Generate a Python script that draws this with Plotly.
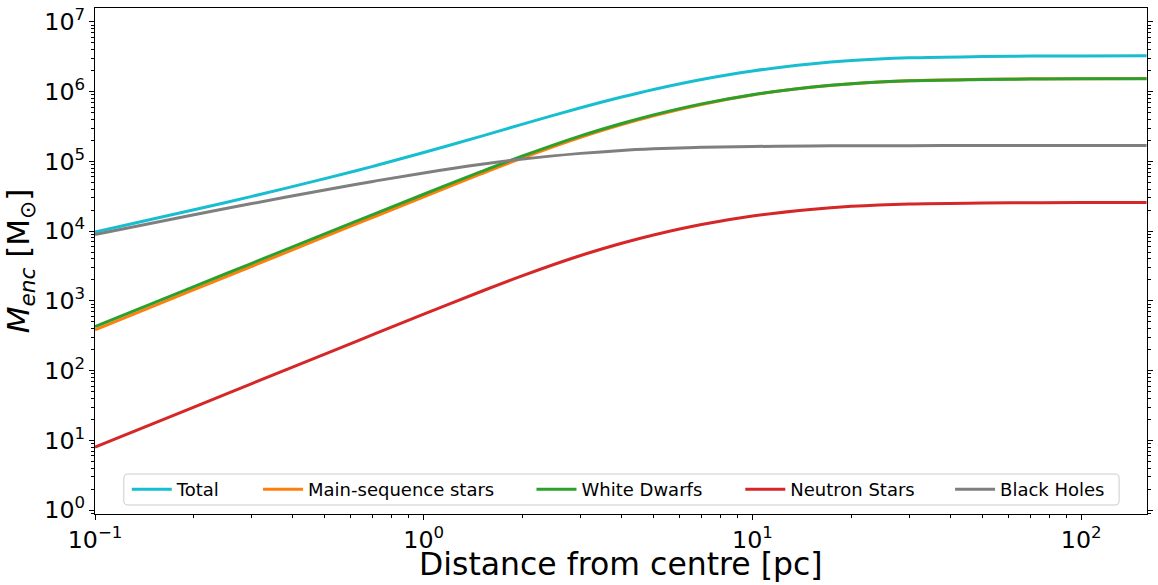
import plotly.graph_objects as go

# Distance from centre [pc]
r_pc = [0.1, 0.2, 0.3, 0.5, 0.7, 1.0, 1.5, 2.0, 3.0, 4.0, 5.0, 7.0, 10.0,
        15.0, 20.0, 30.0, 50.0, 70.0, 100.0, 158.0]

# log10 of enclosed mass [Msun]
log_total = [3.988, 4.306, 4.498, 4.753, 4.929, 5.127, 5.363, 5.534, 5.769, 5.923, 6.032,
             6.175, 6.297, 6.397, 6.446, 6.485, 6.504, 6.510, 6.513, 6.515]
log_ms    = [2.585, 3.160, 3.496, 3.920, 4.198, 4.493, 4.824, 5.050, 5.344, 5.527, 5.654,
             5.817, 5.953, 6.062, 6.114, 6.157, 6.177, 6.184, 6.187, 6.189]
log_wd    = [2.630, 3.204, 3.539, 3.961, 4.237, 4.529, 4.856, 5.078, 5.366, 5.544, 5.667,
             5.825, 5.957, 6.063, 6.114, 6.155, 6.174, 6.181, 6.184, 6.186]
log_ns    = [0.902, 1.477, 1.813, 2.237, 2.515, 2.809, 3.138, 3.362, 3.650, 3.826, 3.945,
             4.095, 4.217, 4.311, 4.356, 4.390, 4.403, 4.407, 4.409, 4.410]
log_bh    = [3.950, 4.234, 4.395, 4.591, 4.713, 4.835, 4.959, 5.034, 5.115, 5.158, 5.180,
             5.202, 5.214, 5.221, 5.224, 5.226, 5.227, 5.227, 5.227, 5.227]

series_names = ["Total", "Main-sequence stars", "White Dwarfs", "Neutron Stars", "Black Holes"]
series_logs = [log_total, log_ms, log_wd, log_ns, log_bh]
series_colors = ["#17becf", "#ff7f0e", "#2ca02c", "#d62728", "#7f7f7f"]

FONT = "DejaVu Sans"

# legend entry anchors (paper x) - one single-entry legend per series, laid out in a row
legend_ids = ["legend", "legend2", "legend3", "legend4", "legend5"]
legend_x = [0.0302, 0.1550, 0.4149, 0.6134, 0.8128]

fig = go.Figure()
for name, logs, col, lid in zip(series_names, series_logs, series_colors, legend_ids):
    fig.add_trace(go.Scatter(
        x=r_pc, y=[10 ** v for v in logs], mode="lines", name=name,
        line=dict(color=col, width=3, shape="spline", smoothing=1.0),
        legend=lid,
    ))

axis_common = dict(
    type="log", showgrid=False, zeroline=False,
    showline=True, linecolor="black", linewidth=1.1,
    ticks="outside", ticklen=5, tickwidth=1.1, tickcolor="black",
    tickmode="linear", tick0=0, dtick=1,
    exponentformat="power", showexponent="all",
    labelalias={"1": "10<sup>0</sup>", "10": "10<sup>1</sup>"},
    tickfont=dict(family=FONT, size=19, color="black"),
    minor=dict(ticks="outside", ticklen=3, tickwidth=0.8, tickcolor="black",
               dtick="D1", showgrid=False),
)

fig.update_xaxes(**axis_common, range=[-1, 2.2], mirror=True)
fig.update_yaxes(**axis_common, range=[-0.057, 7.2], mirror="allticks",
                 title=dict(text="<i>M</i><sub><i>enc</i></sub> [M<sub>⊙</sub>]", standoff=5,
                            font=dict(family=FONT, size=31, color="black")))

# x-axis title
fig.add_annotation(text="Distance from centre [pc]", xref="paper", yref="paper",
                   x=0.5, y=0, xanchor="center", yanchor="middle", yshift=-50,
                   showarrow=False, font=dict(family=FONT, size=31.5, color="black"))

# legend frame (rounded)
x0, x1, y0, y1 = 0.0274, 0.9735, 0.0178, 0.079
rx, ry = 0.004, 0.008
frame_path = (f"M{x0+rx},{y0} L{x1-rx},{y0} Q{x1},{y0} {x1},{y0+ry} "
              f"L{x1},{y1-ry} Q{x1},{y1} {x1-rx},{y1} L{x0+rx},{y1} "
              f"Q{x0},{y1} {x0},{y1-ry} L{x0},{y0+ry} Q{x0},{y0} {x0+rx},{y0} Z")
fig.add_shape(type="path", path=frame_path, xref="paper", yref="paper",
              line=dict(color="#cccccc", width=1), fillcolor="rgba(255,255,255,0.8)",
              layer="above")

legend_layout = {}
for lid, lx in zip(legend_ids, legend_x):
    legend_layout[lid] = dict(
        orientation="h", x=lx, xanchor="left", y=0.0484, yanchor="middle",
        bgcolor="rgba(0,0,0,0)", borderwidth=0, itemwidth=40,
        font=dict(family=FONT, size=18, color="black"),
    )

fig.update_layout(
    width=1158, height=585,
    margin=dict(l=95, r=5, t=8, b=71),
    paper_bgcolor="white", plot_bgcolor="white",
    font=dict(family=FONT, color="black"),
    showlegend=True,
    **legend_layout,
)

fig.write_html("out.html")
